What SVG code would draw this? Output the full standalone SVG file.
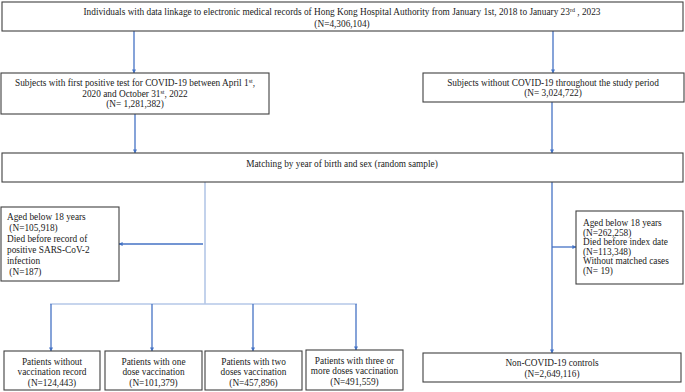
<svg xmlns="http://www.w3.org/2000/svg" width="685" height="392" viewBox="0 0 685 392">
<style>
.box{fill:#fff;stroke:#404040;stroke-width:1.1}
.t{font-family:"Liberation Serif","Times New Roman",serif;font-size:9.3px;fill:#1a1a1a}
.c{text-anchor:middle}
.sup{font-size:6px}
.arr{stroke:#4472C4;stroke-width:1.3;fill:none;marker-end:url(#ah)}
.lt{stroke:#B4C7E7;stroke-width:1.6;fill:none}
</style>
<defs>
<marker id="ah" viewBox="0 0 10 10" refX="9" refY="5" markerWidth="4" markerHeight="4" orient="auto" markerUnits="userSpaceOnUse">
<path d="M0,0 L10,5 L0,10 Z" fill="#4472C4"/>
</marker>
</defs>
<rect width="685" height="392" fill="#fff"/>
<g id="connectors">
<line class="arr" x1="134" y1="31" x2="134" y2="73"/>
<line class="arr" x1="553" y1="31" x2="553" y2="73"/>
<line class="arr" x1="135" y1="114" x2="135" y2="153"/>
<line class="arr" x1="552" y1="102" x2="552" y2="153"/>
<line class="lt" x1="205" y1="182" x2="205" y2="304"/>
<line class="arr" x1="203" y1="244" x2="119" y2="244"/>
<line class="lt" x1="50" y1="304" x2="357" y2="304"/>
<line class="arr" x1="51" y1="304" x2="51" y2="351"/>
<line class="arr" x1="152" y1="304" x2="152" y2="351"/>
<line class="arr" x1="253" y1="304" x2="253" y2="351"/>
<line class="arr" x1="356" y1="304" x2="356" y2="350"/>
<line class="arr" x1="552" y1="182" x2="552" y2="353"/>
<line class="arr" x1="552" y1="247" x2="576" y2="247"/>
</g>
<g id="n_all">
<rect class="box" x="2" y="2" width="681" height="29"/>
<text class="t c" x="342" y="15">Individuals with data linkage to electronic medical records of Hong Kong Hospital Authority from January 1st, 2018 to January 23<tspan class="sup" dy="-3">rd</tspan><tspan dy="3"> , 2023</tspan></text>
<text class="t c" x="342" y="27">(N=4,306,104)</text>
</g>
<g id="n_covid">
<rect class="box" x="1" y="73" width="268" height="41"/>
<text class="t c" x="135" y="86">Subjects with first positive test for COVID-19 between April 1<tspan class="sup" dy="-3">st</tspan><tspan dy="3">,</tspan></text>
<text class="t c" x="135" y="96.5">2020 and October 31<tspan class="sup" dy="-3">st</tspan><tspan dy="3">, 2022</tspan></text>
<text class="t c" x="135" y="107">(N= 1,281,382)</text>
</g>
<g id="n_noncovid">
<rect class="box" x="423" y="73" width="261" height="29"/>
<text class="t c" x="553" y="86">Subjects without COVID-19 throughout the study period</text>
<text class="t c" x="553" y="96">(N= 3,024,722)</text>
</g>
<g id="n_match">
<rect class="box" x="2" y="153" width="681" height="29"/>
<text class="t c" x="342" y="166.5">Matching by year of birth and sex (random sample)</text>
</g>
<g id="n_excl_left">
<rect class="box" x="1" y="207" width="118" height="74"/>
<text class="t" x="7" y="219.5">Aged below 18 years</text>
<text class="t" x="7" y="230.5" xml:space="preserve"> (N=105,918)</text>
<text class="t" x="7" y="241.5">Died before record of</text>
<text class="t" x="7" y="252.5">positive SARS-CoV-2</text>
<text class="t" x="7" y="263.5">infection</text>
<text class="t" x="7" y="274.5" xml:space="preserve"> (N=187)</text>
</g>
<g id="n_excl_right">
<rect class="box" x="576" y="211" width="107" height="73"/>
<text class="t" x="583" y="226">Aged below 18 years</text>
<text class="t" x="583" y="235.5">(N=262,258)</text>
<text class="t" x="583" y="245">Died before index date</text>
<text class="t" x="583" y="254.5">(N=113,348)</text>
<text class="t" x="583" y="264">Without matched cases</text>
<text class="t" x="583" y="273.5">(N= 19)</text>
</g>
<g id="n_v0">
<rect class="box" x="4" y="351" width="96" height="39"/>
<text class="t c" x="52" y="364.5">Patients without</text>
<text class="t c" x="52" y="375">vaccination record</text>
<text class="t c" x="52" y="385.5">(N=124,443)</text>
</g>
<g id="n_v1">
<rect class="box" x="105" y="351" width="97" height="39"/>
<text class="t c" x="153.5" y="364.5">Patients with one</text>
<text class="t c" x="153.5" y="375">dose vaccination</text>
<text class="t c" x="153.5" y="385.5">(N=101,379)</text>
</g>
<g id="n_v2">
<rect class="box" x="205" y="351" width="97" height="39"/>
<text class="t c" x="253.5" y="364.5">Patients with two</text>
<text class="t c" x="253.5" y="375">doses vaccination</text>
<text class="t c" x="253.5" y="385.5">(N=457,896)</text>
</g>
<g id="n_v3">
<rect class="box" x="306" y="350" width="97" height="40"/>
<text class="t c" x="354.5" y="363.5">Patients with three or</text>
<text class="t c" x="354.5" y="374">more doses vaccination</text>
<text class="t c" x="354.5" y="384.5">(N=491,559)</text>
</g>
<g id="n_controls">
<rect class="box" x="423" y="353" width="258" height="29"/>
<text class="t c" x="552" y="366">Non-COVID-19 controls</text>
<text class="t c" x="552" y="376.5">(N=2,649,116)</text>
</g>
</svg>
